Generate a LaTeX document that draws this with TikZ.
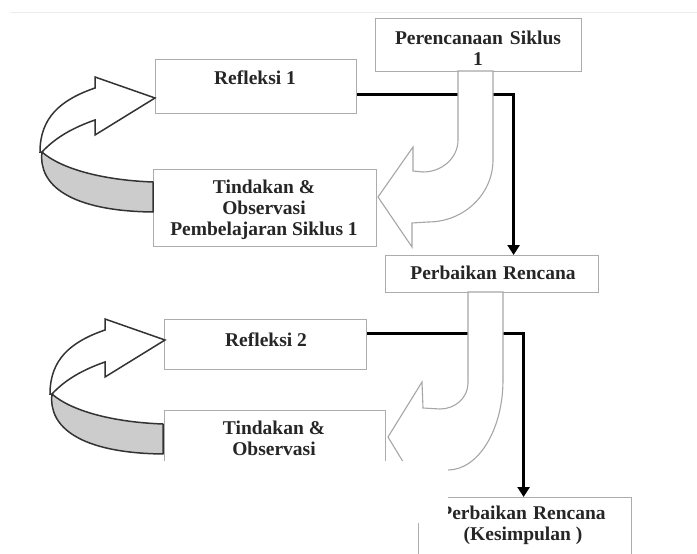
\documentclass[tikz,border=0pt]{standalone}
\usepackage{fontspec}
\setmainfont{Liberation Serif}
\usetikzlibrary{arrows.meta,calc}
\begin{document}
\begin{tikzpicture}[x=1pt,y=-1pt,
  box/.style={draw=gray!65,line width=1.2pt,fill=white,inner sep=0pt,anchor=north west},
  lbl/.style={inner sep=0pt,align=center,text=black!85,font=\bfseries\fontsize{19.5}{21}\selectfont},
  conn/.style={line width=3.3pt,black,-{Triangle[width=12pt,length=10pt]}},
  uturn/.style={draw=gray!70,line width=1.1pt,fill=white,line join=miter},
  band/.style={draw=black!80,line width=1.5pt,fill=gray!40,line join=round},
  curv/.style={draw=black!80,line width=1.5pt,fill=white,line join=miter}]
\useasboundingbox (0,0) rectangle (697,554);
\clip (0,0) rectangle (697,554);
\draw[gray!15,line width=1pt] (10,12) -- (697,12);
% boxes
\node[box,minimum width=206pt,minimum height=53pt] (plan) at (375,18) {};
\node[box,minimum width=201pt,minimum height=54pt] (r1) at (155,59) {};
\node[box,minimum width=223pt,minimum height=77pt] (t1) at (153,169) {};
\node[box,minimum width=213pt,minimum height=37pt] (pr) at (385,255) {};
\node[box,minimum width=202pt,minimum height=50pt] (r2) at (164,319) {};
\node[box,minimum width=221pt,minimum height=77pt] (t2) at (164,410) {};
\node[box,minimum width=213pt,minimum height=80pt] (ks) at (418,497) {};
% connectors
\draw[conn] ([yshift=-8pt]r1.east) -| ([xshift=21.5pt]pr.north);
\draw[conn] ([yshift=11pt]r2.east) -| ([xshift=-1.5pt]ks.north);
% U-turn arrows
\path[uturn] (458,71) -- (458,140) .. controls (458,158) and (442,172) .. (423,172)
  -- (413,171) -- (413,147) -- (378,197) -- (412,247) -- (412,223) -- (428,222)
  .. controls (464,222) and (493,194) .. (493,160) -- (493,71) -- cycle;
\path[uturn] (468,292) -- (468,383) .. controls (468,398) and (455,409) .. (440,409)
  -- (423,408) -- (422,382) -- (388,437) -- (422,493) -- (422,470) -- (448,470)
  .. controls (478,470) and (503,430) .. (503,380) -- (503,292) -- cycle;
% cycle arrows
\foreach \dx/\dy in {0/0,10/242}{
\begin{scope}[shift={(\dx,\dy)}]
\path[band] (153,182) .. controls (100,180) and (60,168) .. (42,152)
  .. controls (38,185) and (70,211) .. (153,212) -- cycle;
\path[curv] (42,152) .. controls (55,138) and (72,128) .. (95,120) -- (95,135)
  -- (155,98) -- (95,77) -- (95,88) .. controls (60,100) and (40,118) .. (40,152) -- cycle;
\end{scope}}
% texts
\node[lbl] (planT) at (478,48) {Perencanaan\hspace{7pt}Siklus\\1};
\node[lbl] (r1T) at (255,78) {Refleksi 1};
\node[lbl] (t1T) at (264,210) {Tindakan \&\\Observasi\\Pembelajaran Siklus 1};
\node[lbl] (prT) at (493,273) {Perbaikan\hspace{6pt}Rencana};
\node[lbl] (r2T) at (266,340) {Refleksi 2};
\node[lbl] (t2T) at (274,438) {Tindakan \&\\Observasi};
\node[lbl] (ksT) at (523,525) {Perbaikan\hspace{6pt}Rencana\\(Kesimpulan )};
% white cover
\fill[white] (0,461) rectangle (448,523);
\fill[white] (0,523) rectangle (416,560);
\end{tikzpicture}
\end{document}
